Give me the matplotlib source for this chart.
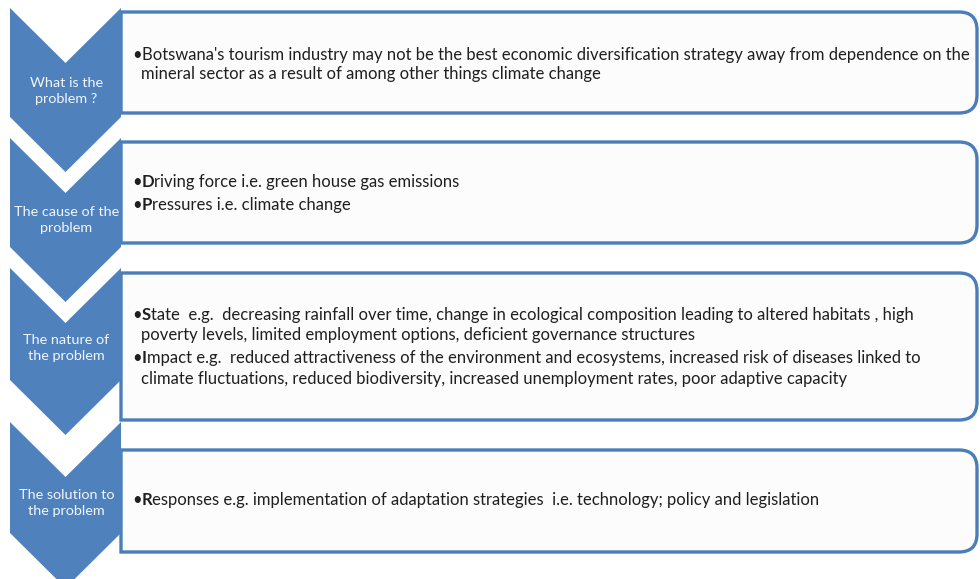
import matplotlib
matplotlib.use("Agg")
import matplotlib.pyplot as plt
from matplotlib.path import Path
from matplotlib.patches import PathPatch, Polygon

# --- content ---
stage_labels = ["What is the\nproblem ?", "The cause of the\nproblem",
                "The nature of\nthe problem", "The solution to\nthe problem"]

# each bullet: (bold first letter, rest of first line, continuation lines)
box_items = [
    [("", "Botswana's tourism industry may not be the best economic diversification strategy away from dependence on the",
      ["mineral sector as a result of among other things climate change"])],
    [("D", "riving force i.e. green house gas emissions", []),
     ("P", "ressures i.e. climate change", [])],
    [("S", "tate  e.g.  decreasing rainfall over time, change in ecological composition leading to altered habitats , high",
      ["poverty levels, limited employment options, deficient governance structures"]),
     ("I", "mpact e.g.  reduced attractiveness of the environment and ecosystems, increased risk of diseases linked to",
      ["climate fluctuations, reduced biodiversity, increased unemployment rates, poor adaptive capacity"])],
    [("R", "esponses e.g. implementation of adaptation strategies  i.e. technology; policy and legislation", [])],
]

# --- layout (pixel units, y downward) ---
W, H = 980, 579
chev_top = [8, 138, 268, 422]
chev_side_end = [117, 247, 380, 533]
chev_x0, chev_x1, tip = 10, 121, 55
box_top = [12, 142, 273, 450]
box_bot = [113, 243, 420, 552]
box_x0, box_x1, radius = 121, 977, 18
label_y = [91, 220, 348, 503]
line_y = [[55, 74], [182, 205], [315, 335, 358, 379], [500]]

blue = "#4F81BD"
edge = "#4A7EBB"
txt_col = "#1F1F1F"
FONT = "Lato"
body_size = 12.0
label_size = 10.4

fig = plt.figure(figsize=(W / 100, H / 100), dpi=100)
ax = fig.add_axes([0, 0, 1, 1])
ax.set_xlim(0, W)
ax.set_ylim(H, 0)
ax.axis("off")


def box_path(x0, x1, y0, y1, r):
    verts = [(x0, y0), (x1 - r, y0), (x1, y0), (x1, y0 + r), (x1, y1 - r),
             (x1, y1), (x1 - r, y1), (x0, y1), (x0, y0)]
    codes = [Path.MOVETO, Path.LINETO, Path.CURVE3, Path.CURVE3, Path.LINETO,
             Path.CURVE3, Path.CURVE3, Path.LINETO, Path.CLOSEPOLY]
    return Path(verts, codes)


for i in range(4):
    # content box
    ax.add_patch(PathPatch(box_path(box_x0, box_x1, box_top[i], box_bot[i], radius),
                           facecolor="#FCFCFC", edgecolor=edge, lw=2.4, zorder=1))
    # chevron
    t, s = chev_top[i], chev_side_end[i]
    xm = (chev_x0 + chev_x1) / 2
    ax.add_patch(Polygon([(chev_x0, t), (xm, t + tip), (chev_x1, t), (chev_x1, s),
                          (xm, s + tip), (chev_x0, s)], closed=True,
                         facecolor=blue, edgecolor="none", zorder=2))
    ax.text(xm + 1, label_y[i], stage_labels[i], ha="center", va="center",
            color="#F2F6FB", fontsize=label_size, family=FONT, linespacing=1.45, zorder=3)

    # bullets
    k = 0
    for bold, rest, cont in box_items[i]:
        y = line_y[i][k]
        b = ax.text(132, y, "\u2022", ha="left", va="center", color=txt_col,
                    fontsize=body_size, family=FONT, zorder=3)
        prev = b
        if bold:
            prev = ax.annotate(bold, xy=(1, 0), xycoords=prev, ha="left", va="bottom",
                               color=txt_col, fontsize=body_size, family=FONT,
                               fontweight="bold", zorder=3)
        ax.annotate(rest, xy=(1, 0), xycoords=prev, ha="left", va="bottom",
                    color=txt_col, fontsize=body_size, family=FONT, zorder=3)
        k += 1
        for line in cont:
            ax.text(141, line_y[i][k], line, ha="left", va="center", color=txt_col,
                    fontsize=body_size, family=FONT, zorder=3)
            k += 1

fig.savefig("out.png", dpi=100, facecolor="white")
